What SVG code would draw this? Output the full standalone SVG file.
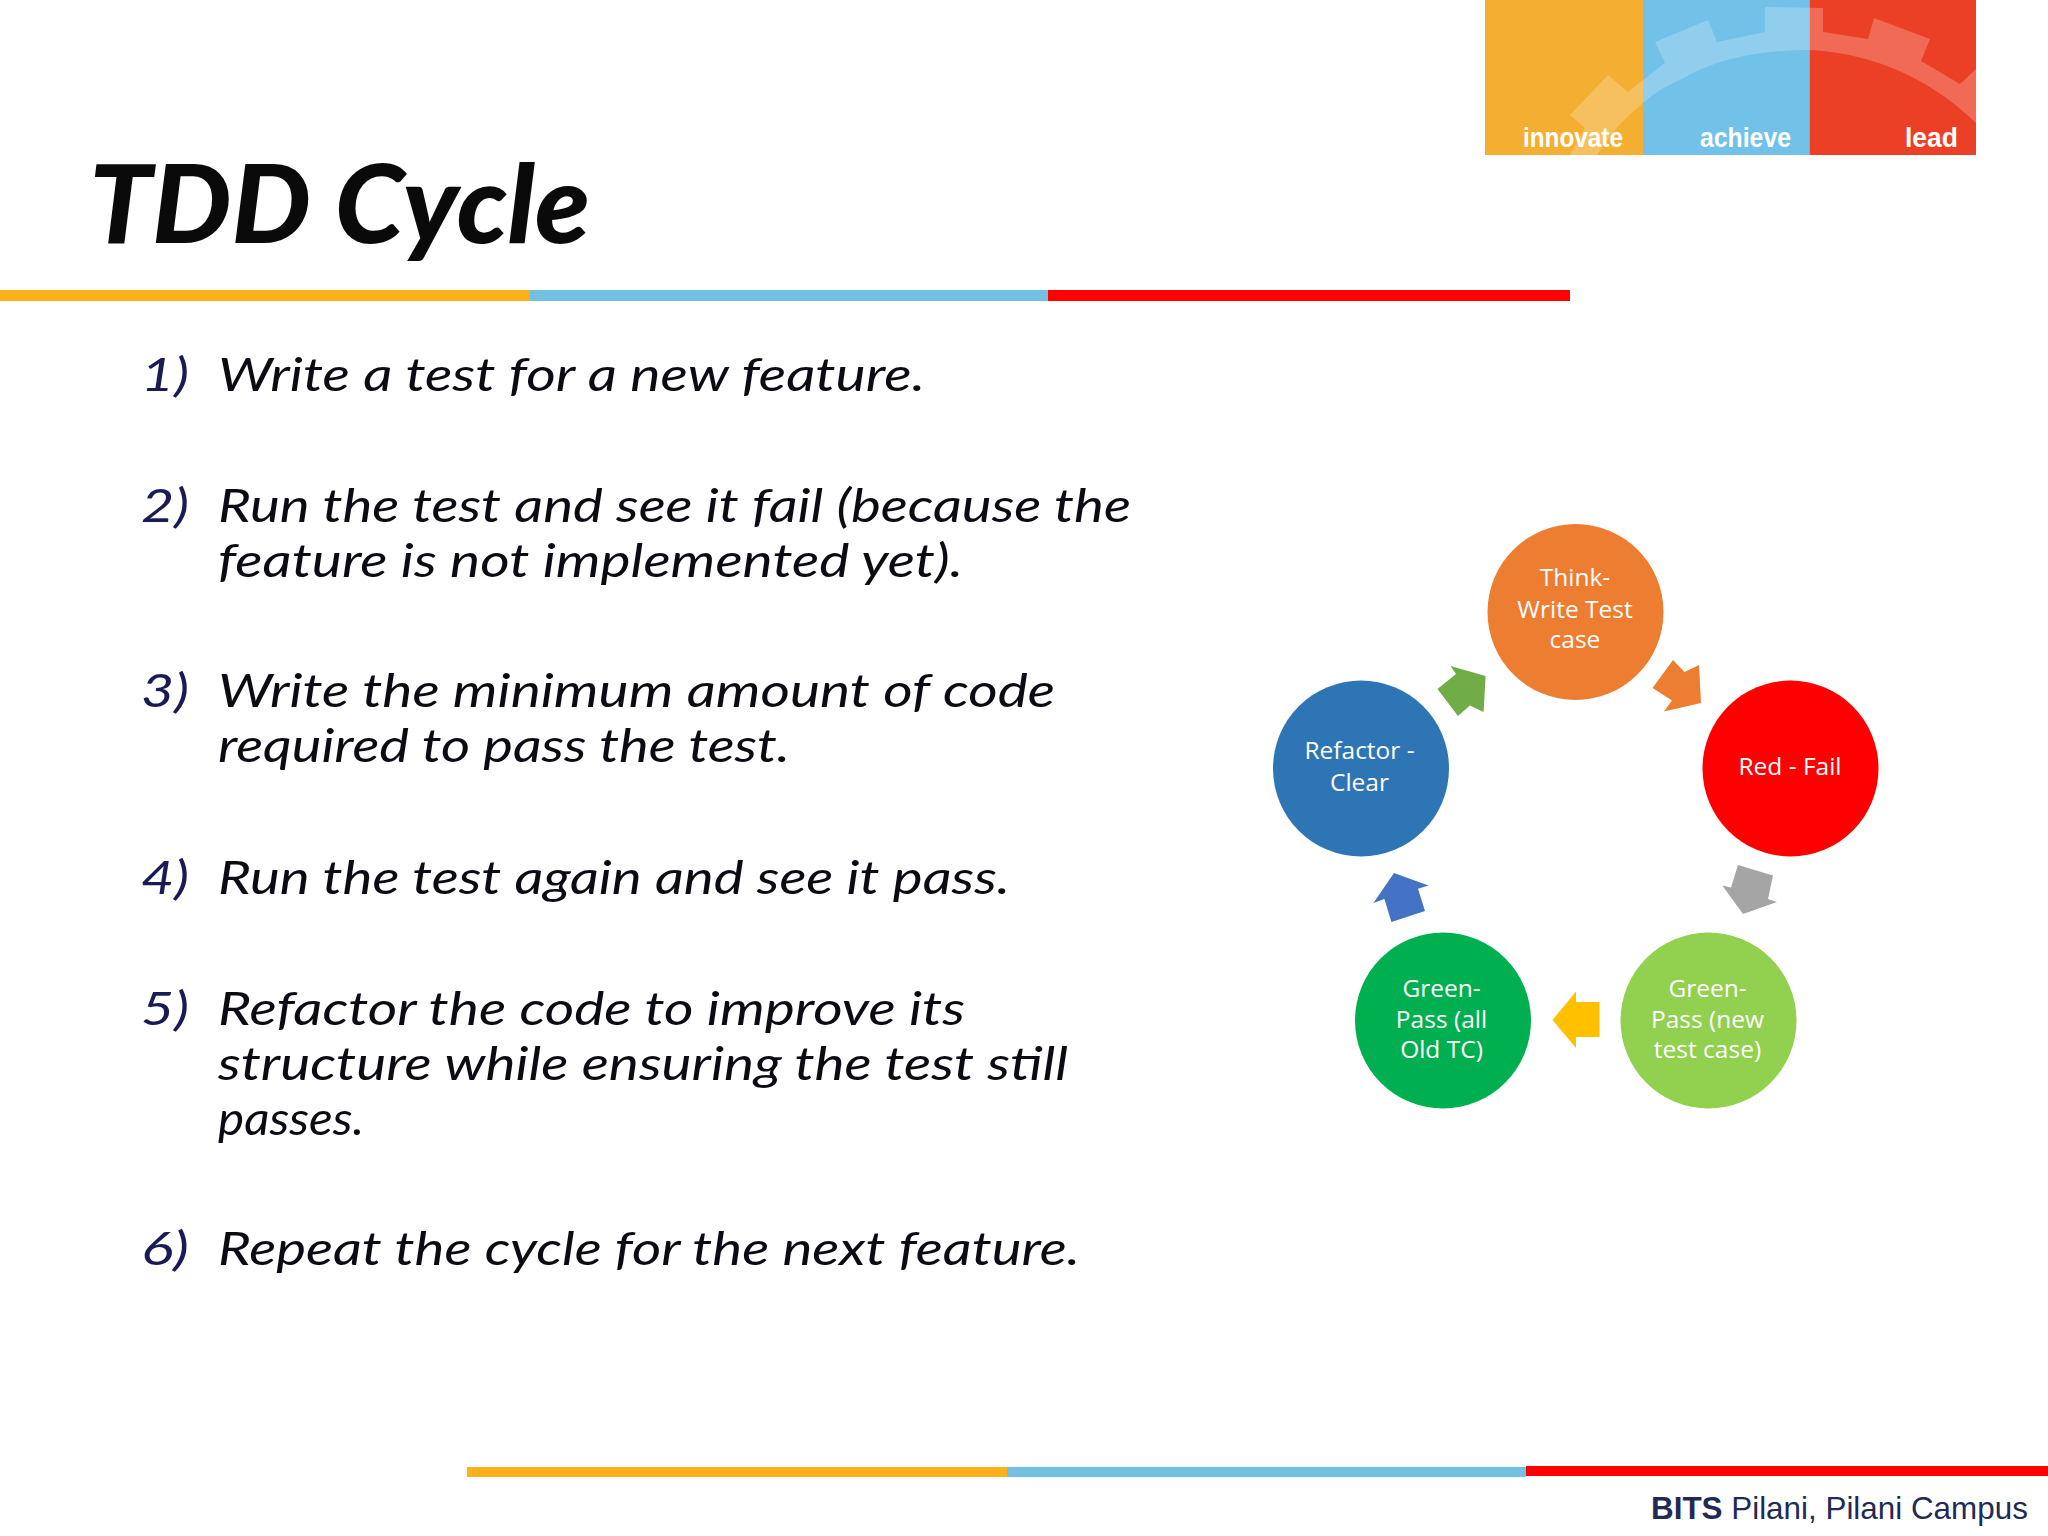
<svg xmlns="http://www.w3.org/2000/svg" width="2048" height="1536" viewBox="0 0 2048 1536">
<style>
.t{font-family:"Lato","Open Sans",sans-serif;font-style:italic;font-size:47px;fill:#0b0b14}
.n{font-family:"Lato","Open Sans",sans-serif;font-style:italic;font-size:47px;fill:#1a1a55}
.c{font-family:"Open Sans","Noto Sans",sans-serif;font-size:24.500px;fill:#fff;text-anchor:middle}
.l{font-family:"Liberation Sans",Arial,sans-serif;font-weight:700;font-size:27px;fill:#fff}
</style>
<rect width="2048" height="1536" fill="#fff"/>
<g id="logo">
<rect x="1485" y="0" width="158" height="155" fill="#f4af33"/>
<rect x="1643" y="0" width="166.500" height="155" fill="#72c1e8"/>
<rect x="1809.500" y="0" width="166.500" height="155" fill="#ec4026"/>
<path d="M1570 115L1608 75L1628 92L1643 80L1665 63L1655 42L1708 20L1717 42L1765 32L1765 7L1823 8L1823 32L1868 39L1874 18L1930 39L1921 61L1960 84L1976 69L1976 123Q1905 55 1809 50Q1730 50 1680 80Q1660 88 1643 103Q1625 118 1613 132L1597 155L1570 155L1585 128Z" fill="#fff" fill-opacity="0.22"/>
<text class="l" x="1523" y="147" textLength="100" lengthAdjust="spacingAndGlyphs">innovate</text>
<text class="l" x="1700" y="147" textLength="91" lengthAdjust="spacingAndGlyphs">achieve</text>
<text class="l" x="1905" y="147" textLength="53" lengthAdjust="spacingAndGlyphs">lead</text>
</g>
<text x="89" y="243" font-family="Lato,'Open Sans',sans-serif" font-style="italic" font-weight="900" font-size="108" fill="#0a0a0a" textLength="501" lengthAdjust="spacingAndGlyphs">TDD Cycle</text>
<g id="top-bar">
<rect x="0" y="290" width="530" height="11" fill="#fdb019"/>
<rect x="530" y="290" width="518" height="11" fill="#74c0e4"/>
<rect x="1048" y="290" width="522" height="11" fill="#ff0000"/>
</g>
<g id="steps">
<text class="n" x="141" y="391" textLength="48" lengthAdjust="spacingAndGlyphs">1)</text>
<text class="t" x="218" y="391" textLength="707" lengthAdjust="spacingAndGlyphs">Write a test for a new feature.</text>
<text class="n" x="141" y="522" textLength="48" lengthAdjust="spacingAndGlyphs">2)</text>
<text class="t" x="218" y="522" textLength="913" lengthAdjust="spacingAndGlyphs">Run the test and see it fail (because the</text>
<text class="t" x="218" y="577" textLength="745" lengthAdjust="spacingAndGlyphs">feature is not implemented yet).</text>
<text class="n" x="141" y="707" textLength="48" lengthAdjust="spacingAndGlyphs">3)</text>
<text class="t" x="218" y="707" textLength="837" lengthAdjust="spacingAndGlyphs">Write the minimum amount of code</text>
<text class="t" x="218" y="762" textLength="572" lengthAdjust="spacingAndGlyphs">required to pass the test.</text>
<text class="n" x="141" y="894" textLength="48" lengthAdjust="spacingAndGlyphs">4)</text>
<text class="t" x="218" y="894" textLength="792" lengthAdjust="spacingAndGlyphs">Run the test again and see it pass.</text>
<text class="n" x="141" y="1025" textLength="48" lengthAdjust="spacingAndGlyphs">5)</text>
<text class="t" x="218" y="1025" textLength="747" lengthAdjust="spacingAndGlyphs">Refactor the code to improve its</text>
<text class="t" x="218" y="1080" textLength="850" lengthAdjust="spacingAndGlyphs">structure while ensuring the test still</text>
<text class="t" x="218" y="1135" textLength="146" lengthAdjust="spacingAndGlyphs">passes.</text>
<text class="n" x="141" y="1265" textLength="48" lengthAdjust="spacingAndGlyphs">6)</text>
<text class="t" x="218" y="1265" textLength="862" lengthAdjust="spacingAndGlyphs">Repeat the cycle for the next feature.</text>
</g>
<g id="connectors">
<polygon points="1673,660 1684.500,672 1699,665 1701,703 1664,711.600 1672,700.500 1652.500,688" fill="#ed7d31"/>
<polygon points="1738,865 1773,875.600 1768,899 1777,902 1743,914 1722.300,885.500 1731,887.500" fill="#a5a5a5"/>
<polygon points="1552.500,1020 1576,991.400 1576,1002 1599.500,1002 1599.500,1037 1576,1037 1576,1048" fill="#ffc000"/>
<polygon points="1394,873 1428.500,885.500 1418,888.700 1425,911 1391.400,922 1384.400,899 1373.400,903" fill="#4472c4"/>
<polygon points="1485.600,676 1450.500,666 1456,674 1437.500,689 1458,716 1470,705.600 1483.600,712" fill="#70ad47"/>
</g>
<g id="node-think">
<circle cx="1575.500" cy="612" r="88" fill="#ed7d31"/>
<text class="c" x="1575" y="586">Think-</text>
<text class="c" x="1575" y="618">Write Test</text>
<text class="c" x="1575" y="648">case</text>
</g>
<g id="node-red">
<circle cx="1790.500" cy="768.500" r="88" fill="#ff0000"/>
<text class="c" x="1790" y="775">Red - Fail</text>
</g>
<g id="node-green-new">
<circle cx="1708.500" cy="1020.500" r="88" fill="#92d050"/>
<text class="c" x="1707.500" y="997">Green-</text>
<text class="c" x="1707.500" y="1028">Pass (new</text>
<text class="c" x="1707.500" y="1058">test case)</text>
</g>
<g id="node-green-old">
<circle cx="1443" cy="1020.500" r="88" fill="#00b050"/>
<text class="c" x="1441.500" y="997">Green-</text>
<text class="c" x="1441.500" y="1028">Pass (all</text>
<text class="c" x="1441.500" y="1058">Old TC)</text>
</g>
<g id="node-refactor">
<circle cx="1361" cy="768.500" r="88" fill="#2e75b6"/>
<text class="c" x="1359.500" y="759">Refactor -</text>
<text class="c" x="1359.500" y="791">Clear</text>
</g>
<g id="bottom-bar">
<rect x="467" y="1467" width="540" height="10" fill="#fdb019"/>
<rect x="1007" y="1467" width="519" height="10" fill="#74c0e4"/>
<rect x="1526" y="1466" width="522" height="10" fill="#ff0000"/>
</g>
<text x="1651" y="1519" font-family="'Liberation Sans',Arial,sans-serif" font-size="31.400" fill="#1f2a55"><tspan font-weight="700">BITS</tspan> Pilani, Pilani Campus</text>
</svg>
